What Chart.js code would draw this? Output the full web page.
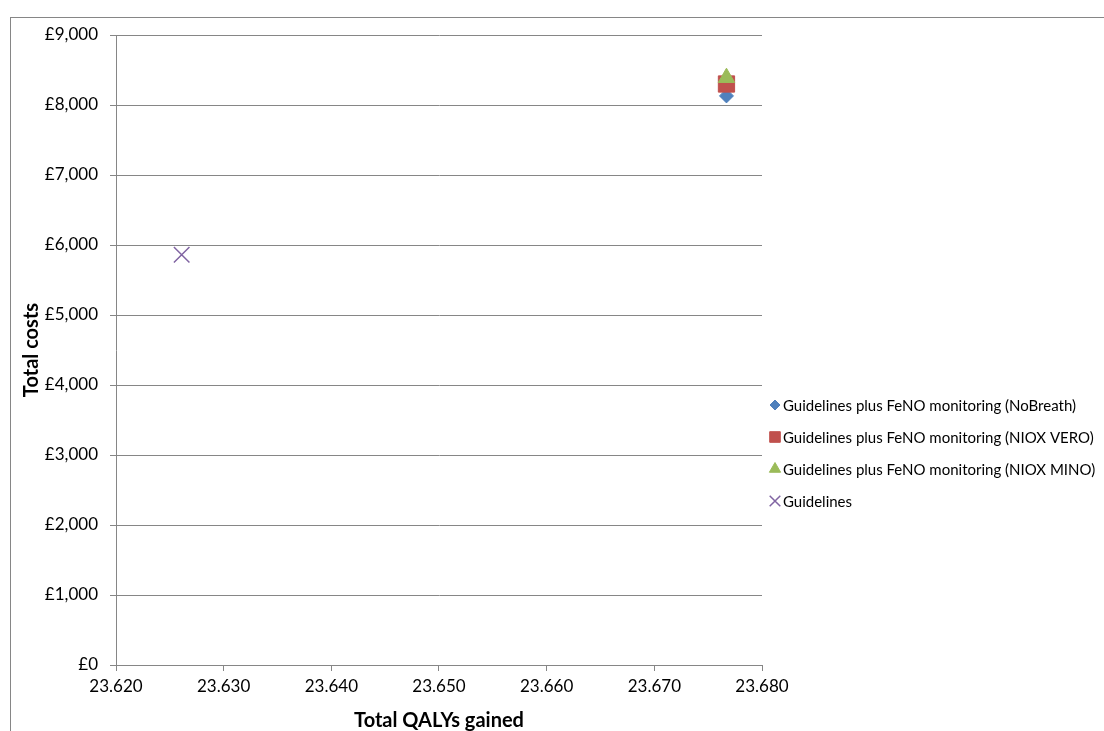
<!DOCTYPE html>
<html>
<head>
<meta charset="utf-8">
<script src="https://cdn.jsdelivr.net/npm/chart.js@4.4.0/dist/chart.umd.min.js"></script>
<style>
html, body { margin: 0; padding: 0; background: #fff; }
</style>
</head>
<body>
<canvas id="costChart" width="1104" height="731"></canvas>
<script>
// series shown in the legend, one point each
var seriesNames = [
    'Guidelines plus FeNO monitoring (NoBreath)',
    'Guidelines plus FeNO monitoring (NIOX VERO)',
    'Guidelines plus FeNO monitoring (NIOX MINO)',
    'Guidelines'
];
var totalQalys = [23.6767, 23.6767, 23.6767, 23.6261];
var totalCosts = [8130, 8300, 8390, 5860];

var xTicks = [23.620, 23.630, 23.640, 23.650, 23.660, 23.670, 23.680];
var yTicks = [0, 1000, 2000, 3000, 4000, 5000, 6000, 7000, 8000, 9000];

// marker look per series
var markerStyles = ['rectRot', 'rect', 'triangle', 'crossRot'];
var markerColors = ['#4F81BD', '#C0504D', '#9BBB59', '#8064A2'];
var markerRadius = [7, 11.5, 9.5, 11];
var legendRadius = [5, 7.5, 6.5, 7.5];
var gridColor = '#868686';

Chart.defaults.font.family = 'Lato, "Open Sans", sans-serif';
Chart.defaults.color = '#000';

var datasets = seriesNames.map(function(name, i) {
    var isCross = markerStyles[i] === 'crossRot';
    return {
        label: name,
        data: [{ x: totalQalys[i], y: totalCosts[i] }],
        pointStyle: markerStyles[i],
        pointRadius: markerRadius[i],
        backgroundColor: markerColors[i],
        borderColor: markerColors[i],
        borderWidth: isCross ? 1.5 : 1,
        order: seriesNames.length - i
    };
});

// grey frame round the whole chart
var framePlugin = {
    id: 'frame',
    beforeDraw: function(chart) {
        var ctx = chart.ctx;
        ctx.save();
        ctx.strokeStyle = gridColor;
        ctx.lineWidth = 1;
        ctx.strokeRect(10.5, 17.5, 2000, 2000);
        ctx.restore();
    }
};

// legend on the right, drawn by hand
var sideLegend = {
    id: 'sideLegend',
    afterDraw: function(chart) {
        var ctx = chart.ctx;
        ctx.save();
        ctx.font = '15px Lato';
        ctx.textBaseline = 'middle';
        ctx.textAlign = 'left';
        chart.data.datasets.forEach(function(ds, i) {
            var y = 405 + i * 32;
            ctx.fillStyle = ds.backgroundColor;
            ctx.strokeStyle = ds.borderColor;
            ctx.lineWidth = ds.borderWidth;
            Chart.helpers.drawPoint(ctx, {
                pointStyle: ds.pointStyle,
                radius: legendRadius[i],
                borderWidth: ds.borderWidth,
                rotation: 0
            }, 775, y);
            ctx.fillStyle = '#000';
            ctx.fillText(ds.label, 783, y + 1);
        });
        ctx.restore();
    }
};

new Chart(document.getElementById('costChart'), {
    type: 'scatter',
    data: { datasets: datasets },
    plugins: [framePlugin, sideLegend],
    options: {
        responsive: false,
        animation: false,
        layout: { padding: { top: 35, right: 342, bottom: 0, left: 0 } },
        plugins: {
            legend: { display: false },
            tooltip: { enabled: false }
        },
        scales: {
            x: {
                type: 'linear',
                min: 23.62,
                max: 23.68,
                afterBuildTicks: function(scale) {
                    scale.ticks = xTicks.map(function(v) { return { value: v }; });
                },
                afterFit: function(scale) { scale.height = 66; },
                grid: { drawOnChartArea: false, drawTicks: true, tickLength: 6, color: gridColor },
                border: { color: gridColor },
                ticks: {
                    padding: 5,
                    maxRotation: 0,
                    font: { size: 17 },
                    callback: function(value) { return value.toFixed(3); }
                },
                title: {
                    display: true,
                    text: 'Total QALYs gained',
                    font: { size: 20, weight: 'bold', lineHeight: 1 },
                    padding: { top: 0, bottom: 0 }
                }
            },
            y: {
                min: 0,
                max: 9000,
                afterBuildTicks: function(scale) {
                    scale.ticks = yTicks.map(function(v) { return { value: v }; });
                },
                afterFit: function(scale) { scale.width = 116; },
                grid: { color: gridColor, tickLength: 6 },
                border: { color: gridColor },
                ticks: {
                    padding: 12,
                    font: { size: 17 },
                    callback: function(value) { return '£' + value.toLocaleString('en-GB'); }
                },
                title: {
                    display: true,
                    text: 'Total costs',
                    font: { size: 20, weight: 'bold', lineHeight: 1 },
                    padding: { top: 22, bottom: 0 }
                }
            }
        }
    }
});
</script>
</body>
</html>
